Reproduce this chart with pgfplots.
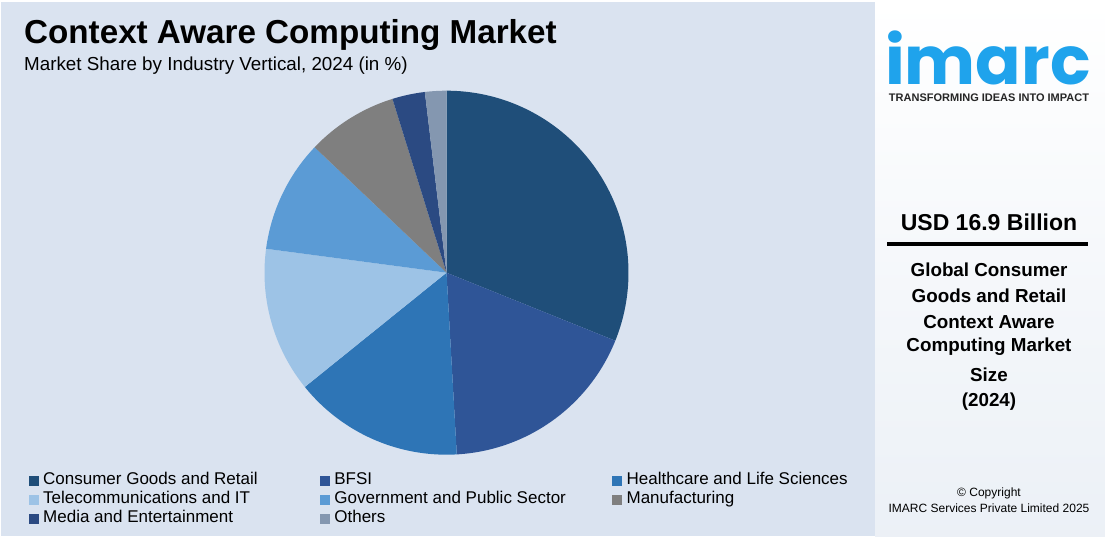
\documentclass[border=0pt]{standalone}
\usepackage{pgfplots}
\pgfplotsset{compat=1.18}
\usepackage{pgfplotstable}
\usepackage{fontspec}
\setmainfont{Liberation Sans}
\newfontfamily\logofont{Poppins}
\definecolor{leftbg}{HTML}{DAE3F0}
\definecolor{rightbg}{HTML}{F3F6F9}
\definecolor{slice0}{HTML}{1F4E79}
\definecolor{slice1}{HTML}{2F5597}
\definecolor{slice2}{HTML}{2E75B6}
\definecolor{slice3}{HTML}{9DC3E6}
\definecolor{slice4}{HTML}{5B9BD5}
\definecolor{slice5}{HTML}{7F7F7F}
\definecolor{slice6}{HTML}{2B4A82}
\definecolor{slice7}{HTML}{8497B0}
\definecolor{logoblue}{RGB}{31,163,236}
\pgfplotstableread[col sep=comma]{
label,value
Consumer Goods and Retail,31.1
BFSI,18.0
Healthcare and Life Sciences,15.1
Telecommunications and IT,12.9
Government and Public Sector,10.0
Manufacturing,8.1
Media and Entertainment,2.9
Others,1.9
}\piedata
\begin{document}
\begin{tikzpicture}[x=1bp,y=1bp]
\fill[white] (0,0) rectangle (1105,537);
\shade[top color=white, bottom color=rightbg!70!leftbg] (875,0) rectangle (1105,537);
\fill[leftbg] (1,1) rectangle (875,535);
% titles
\node[anchor=base west, inner sep=0pt, font=\fontsize{33.2bp}{38bp}\selectfont\bfseries] at (24,493) {Context Aware Computing Market};
\node[anchor=base west, inner sep=0pt, font=\fontsize{18.8bp}{22bp}\selectfont] at (24,466) {Market Share by Industry Vertical, 2024 (in \%)};
% right panel
\node[anchor=base west, inner sep=0pt, text depth=0pt, text=logoblue, font=\fontsize{67bp}{75bp}\logofont\bfseries] at (885,452) {imarc};
\node[inner sep=0pt, font=\fontsize{11bp}{13bp}\selectfont\bfseries, text=black!85] at (989,439) {TRANSFORMING IDEAS INTO IMPACT};
\node[inner sep=0pt, font=\fontsize{23bp}{27bp}\selectfont\bfseries] at (989,315) {USD 16.9 Billion};
\fill[black] (887,290.5) rectangle (1088,294.5);
\begin{scope}[every node/.style={inner sep=0pt, font=\fontsize{18.8bp}{22bp}\selectfont\bfseries}]
\node at (989,267) {Global Consumer};
\node at (989,241) {Goods and Retail};
\node at (989,215) {Context Aware};
\node at (989,190) {Computing Market};
\node at (989,162) {Size};
\node at (989,135) {(2024)};
\end{scope}
\node[inner sep=0pt, font=\fontsize{12bp}{14bp}\selectfont] at (989,44) {\textcopyright{} Copyright};
\node[inner sep=0pt, font=\fontsize{12bp}{14bp}\selectfont] at (989,28.5) {IMARC Services Private Limited 2025};
% pie
\begin{axis}[
  at={(446.5bp,264.3bp)}, anchor=center,
  width=364bp, height=364bp, scale only axis,
  hide axis, clip=false,
  xmin=-1, xmax=1, ymin=-1, ymax=1,
  legend columns=3,
  legend cell align=left,
  legend image code/.code={\fill[draw=none,#1] (0bp,-5bp) rectangle (10bp,5bp); \path (14bp,0bp);},
  legend style={at={(rel axis cs:-0.647,-0.0503)}, anchor=north west,
    draw=none, fill=none, inner sep=0pt, outer sep=0pt,
    row sep=3bp, column sep=0pt,
    font=\fontsize{17bp}{20bp}\selectfont,
    nodes={inner sep=0pt, text height=12bp, text depth=4bp}},
]
\pgfmathsetmacro\angA{90}
\pgfplotsforeachungrouped \i in {0,...,7}{%
  \pgfplotstablegetelem{\i}{value}\of\piedata
  \pgfmathsetmacro\angB{\angA-3.6*\pgfplotsretval}%
  \edef\slicecmd{\noexpand\fill[slice\i] (0,0) -- plot[domain=\angA:\angB, samples=80, variable=\noexpand\t] ({cos(\noexpand\t)},{sin(\noexpand\t)}) -- cycle;}%
  \slicecmd
  \global\let\angA\angB
}
\addlegendimage{fill=slice0}\addlegendentry{\makebox[277bp][l]{Consumer Goods and Retail}}
\addlegendimage{fill=slice1}\addlegendentry{\makebox[278bp][l]{BFSI}}
\addlegendimage{fill=slice2}\addlegendentry{Healthcare and Life Sciences}
\addlegendimage{fill=slice3}\addlegendentry{\makebox[277bp][l]{Telecommunications and IT}}
\addlegendimage{fill=slice4}\addlegendentry{\makebox[278bp][l]{Government and Public Sector}}
\addlegendimage{fill=slice5}\addlegendentry{Manufacturing}
\addlegendimage{fill=slice6}\addlegendentry{\makebox[277bp][l]{Media and Entertainment}}
\addlegendimage{fill=slice7}\addlegendentry{\makebox[278bp][l]{Others}}
\end{axis}
\end{tikzpicture}
\end{document}
